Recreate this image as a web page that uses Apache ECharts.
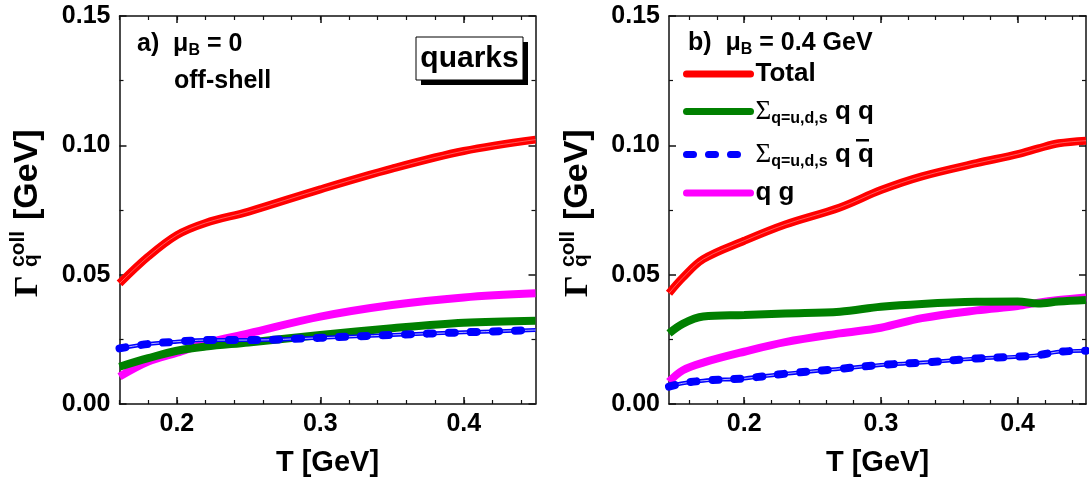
<!DOCTYPE html>
<html>
<head>
<meta charset="utf-8">
<script src="https://cdn.jsdelivr.net/npm/echarts@6/dist/echarts.min.js"></script>
<style>
  html, body { margin: 0; padding: 0; background: #fff; }
  #main { width: 1089px; height: 482px; }
</style>
</head>
<body>
<div id="main"></div>
<script>
// panel a) mu_B = 0, off-shell
const tA = [0.16, 0.18, 0.2, 0.22, 0.25, 0.3, 0.35, 0.4, 0.45];
const totalA = [0.0466, 0.0570, 0.0653, 0.0700, 0.0744, 0.0830, 0.0910, 0.0978, 0.1022];
const qgA    = [0.0106, 0.0164, 0.0198, 0.0235, 0.0273, 0.0338, 0.0383, 0.0412, 0.0428];
const qqA    = [0.0144, 0.0177, 0.0206, 0.0222, 0.0238, 0.0267, 0.0293, 0.0314, 0.0322];
const qqbarA = [0.0215, 0.0232, 0.0241, 0.0247, 0.0247, 0.0256, 0.0267, 0.0277, 0.0286];

// panel b) mu_B = 0.4 GeV
const tB = [0.145, 0.155, 0.17, 0.2, 0.23, 0.27, 0.3, 0.33, 0.37, 0.4, 0.415, 0.43, 0.45];
const totalB = [0.0428, 0.0488, 0.0560, 0.0631, 0.0694, 0.0760, 0.0827, 0.0880, 0.0931, 0.0966, 0.0988, 0.1008, 0.1018];
const qqB    = [0.0273, 0.0310, 0.0338, 0.0344, 0.0350, 0.0357, 0.0376, 0.0387, 0.0395, 0.0396, 0.0389, 0.0396, 0.0402];
const qgB    = [0.0086, 0.0130, 0.0160, 0.0202, 0.0239, 0.0273, 0.0295, 0.0332, 0.0362, 0.0379, 0.0392, 0.0402, 0.0412];
const qqbarB = [0.0067, 0.0080, 0.0090, 0.0099, 0.0117, 0.0136, 0.0151, 0.0160, 0.0176, 0.0183, 0.0189, 0.0202, 0.0206];

// ticks
const xMajor = [0.2, 0.3, 0.4];
const xMinor = [0.16, 0.18, 0.2, 0.22, 0.24, 0.26, 0.28, 0.3, 0.32, 0.34, 0.36, 0.38, 0.4, 0.42, 0.44];
const xRange = [[0.16, 0.45], [0.145, 0.45]];

const FONT = "'Liberation Sans', Arial, sans-serif";
const SERIF = "'Liberation Serif', 'Times New Roman', serif";
const axisColor = '#111';
const RED = '#ff0000', GREEN = '#008000', BLUE = '#0000ff', MAGENTA = '#ff00ff';

const pairs = (t, v) => t.map((x, i) => [x, v[i]]);

function xAxesFor(g) {
    const [min, max] = xRange[g];
    const base = { gridIndex: g, type: 'value', min, max, splitLine: { show: false } };
    const major = (pos, withLabel) => Object.assign({}, base, {
        position: pos,
        axisLine: { show: true, onZero: false, lineStyle: { color: axisColor, width: 1.5 } },
        axisTick: { show: true, inside: true, length: 7, customValues: xMajor, lineStyle: { color: axisColor, width: 1.5 } },
        axisLabel: withLabel ? {
            customValues: xMajor, margin: 8, color: '#000',
            fontFamily: FONT, fontWeight: 'bold', fontSize: 25,
            formatter: v => v.toFixed(1)
        } : { show: false },
        name: withLabel ? 'T [GeV]' : '',
        nameLocation: 'middle',
        nameGap: 44,
        nameTextStyle: { fontFamily: FONT, fontWeight: 'bold', fontSize: 29, color: '#000' }
    });
    const minor = pos => Object.assign({}, base, {
        position: pos,
        axisLine: { show: false, onZero: false },
        axisTick: { show: true, inside: true, length: 4, customValues: xMinor, lineStyle: { color: axisColor, width: 1.2 } },
        axisLabel: { show: false }
    });
    return [major('bottom', true), minor('bottom'), major('top', false), minor('top')];
}

function yAxesFor(g) {
    const mk = (pos, withLabel) => ({
        gridIndex: g, type: 'value', min: 0, max: 0.15, interval: 0.05, position: pos,
        splitLine: { show: false },
        axisLine: { show: true, onZero: false, lineStyle: { color: axisColor, width: 1.5 } },
        axisTick: { show: true, inside: true, length: 7, lineStyle: { color: axisColor, width: 1.5 } },
        minorTick: { show: true, splitNumber: 2, length: 4, lineStyle: { color: axisColor, width: 1.2 } },
        axisLabel: withLabel ? {
            margin: 9, color: '#000', fontFamily: FONT, fontWeight: 'bold', fontSize: 25,
            formatter: v => v.toFixed(2)
        } : { show: false }
    });
    return [mk('left', true), mk('right', false)];
}

function panelSeries(g, t, total, qq, qqbar, qg) {
    const xi = g * 4, yi = g * 2;
    const line = (name, data, style, z) => ({
        name, type: 'line', xAxisIndex: xi, yAxisIndex: yi, data: pairs(t, data),
        symbol: 'none', smooth: 0.35, z: z || 2, lineStyle: style, silent: true
    });
    return [
        line('Total', total, { color: RED, width: 8 }),
        line('core-total-' + g, total, { color: 'rgba(255,255,255,0.45)', width: 0.8 }, 3),
        line('qg', qg, { color: MAGENTA, width: 8 }, 4),
        line('qq', qq, { color: GREEN, width: 8 }, 5),
        line('band-qqbar-' + g, qqbar, { color: BLUE, width: 4 }, 6),
        line('core-qqbar-' + g, qqbar, { color: 'rgba(255,255,255,0.7)', width: 1 }, 7),
        line('qqbar', qqbar, { color: BLUE, width: 8, type: [6, 16], cap: 'round' }, 8)
    ];
}

const richLegend = {
    t: { fontFamily: FONT, fontWeight: 'bold', fontSize: 26, lineHeight: 30, color: '#000' },
    sig: { fontFamily: SERIF, fontWeight: 'normal', fontSize: 27, lineHeight: 30, color: '#000' },
    sub: { fontFamily: FONT, fontWeight: 'bold', fontSize: 16, lineHeight: 14, verticalAlign: 'bottom', color: '#000' }
};
function legendRow(name, top, text, dash) {
    return {
        data: [name], left: 683, top, orient: 'vertical', padding: 0,
        itemWidth: 64, itemHeight: 8, selectedMode: false,
        itemStyle: { opacity: 0 },
        lineStyle: Object.assign({ width: 7, cap: 'round' }, dash ? { type: dash } : {}),
        formatter: () => text,
        textStyle: { fontFamily: FONT, fontWeight: 'bold', fontSize: 26, color: '#000', rich: richLegend }
    };
}

const richNote = {
    m: { fontFamily: FONT, fontWeight: 'bold', fontSize: 25, lineHeight: 30, fill: '#000' },
    s: { fontFamily: FONT, fontWeight: 'bold', fontSize: 16, lineHeight: 18, verticalAlign: 'bottom', fill: '#000' }
};

function yTitle(x) {
    return {
        type: 'group', x, y: 297, rotation: Math.PI / 2,
        children: [
            { type: 'text', style: { text: 'Γ', x: 0, y: -12, verticalAlign: 'middle', font: 'bold 34px ' + SERIF, fill: '#000' } },
            { type: 'text', style: { text: 'coll', x: 30, y: -22, verticalAlign: 'middle', font: 'bold 21px ' + FONT, fill: '#000' } },
            { type: 'text', style: { text: 'q', x: 30, y: -9, verticalAlign: 'middle', font: 'bold 21px ' + FONT, fill: '#000' } },
            { type: 'text', style: { text: '[GeV]', x: 77, y: -12, verticalAlign: 'middle', font: 'bold 34px ' + FONT, fill: '#000' } }
        ]
    };
}

const chart = echarts.init(document.getElementById('main'), null, { renderer: 'canvas' });
let option;
chart.setOption(
    (option = {
        animation: false,
        backgroundColor: '#fff',
        grid: [
            { left: 119.5, top: 16, width: 416, height: 388 },
            { left: 669, top: 16, width: 417, height: 388 }
        ],
        xAxis: xAxesFor(0).concat(xAxesFor(1)),
        yAxis: yAxesFor(0).concat(yAxesFor(1)),
        legend: [
            legendRow('Total', 61, '{t|Total}'),
            legendRow('qq', 98, '{sig|Σ}{sub|q=u,d,s}{t| q q}'),
            legendRow('qqbar', 141, '{sig|Σ}{sub|q=u,d,s}{t| q q}', [7, 15]),
            legendRow('qg', 180, '{t|q g}')
        ],
        series: panelSeries(0, tA, totalA, qqA, qqbarA, qgA)
            .concat(panelSeries(1, tB, totalB, qqB, qqbarB, qgB)),
        graphic: [
            yTitle(40),
            yTitle(590),
            { type: 'text', style: { text: '{m|a)  μ}{s|B}{m| = 0}', x: 137, y: 44, verticalAlign: 'middle', rich: richNote } },
            { type: 'text', style: { text: 'off-shell', x: 174, y: 81, verticalAlign: 'middle', font: 'bold 25px ' + FONT, fill: '#000' } },
            { type: 'text', style: { text: '{m|b)  μ}{s|B}{m| = 0.4 GeV}', x: 688, y: 43, verticalAlign: 'middle', rich: richNote } },
            { type: 'rect', shape: { x: 421, y: 42, width: 107, height: 43 }, style: { fill: '#000' } },
            { type: 'rect', shape: { x: 416, y: 37, width: 107, height: 43 }, style: { fill: '#fff', stroke: '#000', lineWidth: 1 } },
            { type: 'text', style: { text: 'quarks', x: 469.5, y: 58.5, align: 'center', verticalAlign: 'middle', font: 'bold 30px ' + FONT, fill: '#000' } },
            // bar over the second q of the q-qbar legend entry
            { type: 'rect', shape: { x: 856, y: 139, width: 13, height: 2.5 }, style: { fill: '#000' } }
        ]
    })
);

option && chart.setOption(option);
</script>
</body>
</html>
